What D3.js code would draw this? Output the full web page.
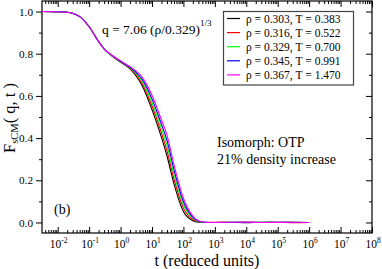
<!DOCTYPE html>
<html>
<head>
<meta charset="utf-8">
<script src="https://cdn.jsdelivr.net/npm/d3@7"></script>
<style>
  html, body { margin: 0; padding: 0; background: #fff; }
  svg { display: block; }
  text { font-family: "Liberation Serif", "Times New Roman", serif; fill: #000; }
</style>
</head>
<body>
<svg id="chart" width="382" height="269"></svg>
<script>
// ---- data ----
const times = [0.003, 0.01, 0.02, 0.05, 0.1, 0.2, 0.3, 0.5, 1, 2, 3, 5, 10, 20, 30, 50, 100, 200, 300, 500, 1000, 3000, 1e4, 3e4, 1e5, 3e5, 1e6];
const F_rho0303 = [1.0, 0.999, 0.997, 0.976, 0.928, 0.858, 0.823, 0.793, 0.760, 0.728, 0.698, 0.645, 0.535, 0.403, 0.315, 0.183, 0.052, 0.008, 0.001, 0.000, 0.000, 0.001, -0.001, 0.001, 0.000, 0.001, 0.000];
const F_rho0316 = [1.0, 0.999, 0.997, 0.976, 0.928, 0.858, 0.823, 0.794, 0.7615, 0.731, 0.703, 0.655, 0.552, 0.424, 0.340, 0.206, 0.068, 0.013, 0.003, 0.000, 0.001, 0.000, 0.002, 0.000, 0.001, -0.001, 0.000];
const F_rho0329 = [1.0, 0.999, 0.997, 0.976, 0.928, 0.858, 0.823, 0.794, 0.763, 0.7335, 0.709, 0.666, 0.569, 0.445, 0.365, 0.228, 0.084, 0.019, 0.004, 0.001, 0.000, 0.001, 0.000, 0.001, 0.000, 0.001, 0.000];
const F_rho0345 = [1.0, 0.999, 0.997, 0.976, 0.928, 0.858, 0.823, 0.795, 0.7645, 0.736, 0.714, 0.676, 0.586, 0.465, 0.389, 0.251, 0.099, 0.024, 0.006, 0.001, 0.000, 0.000, 0.001, 0.000, 0.001, 0.000, 0.000];
const F_rho0367 = [1.0, 0.999, 0.997, 0.976, 0.928, 0.858, 0.823, 0.795, 0.766, 0.739, 0.720, 0.687, 0.603, 0.486, 0.414, 0.273, 0.115, 0.030, 0.008, 0.001, 0.000, 0.001, 0.001, 0.000, 0.000, 0.001, 0.000];
const seriesLabels = ["ρ = 0.303, T = 0.383", "ρ = 0.316, T = 0.522", "ρ = 0.329, T = 0.700", "ρ = 0.345, T = 0.991", "ρ = 0.367, T = 1.470"];
const seriesColors = ["#000000", "#ff0000", "#00ff00", "#0000ff", "#ff00ff"];
const seriesValues = [F_rho0303, F_rho0316, F_rho0329, F_rho0345, F_rho0367];
const xMajorExponents = [-2, -1, 0, 1, 2, 3, 4, 5, 6, 7, 8];
const yMajorTicks = [0.0, 0.2, 0.4, 0.6, 0.8, 1.0];
const yMinorTicks = [0.1, 0.3, 0.5, 0.7, 0.9];

// ---- layout ----
const L = 42, R = 372, T = 1, B = 233;
const svg = d3.select("#chart");
const x = d3.scaleLog().domain([Math.pow(10, -2.5), 1e8]).range([L, R]);
const y = d3.scaleLinear().domain([-0.05, 1.05]).range([B, T]);

const xMajor = xMajorExponents.map(e => Math.pow(10, e));
const xMinor = [];
for (let e = -3; e <= 7; e++) for (let m = 2; m <= 9; m++) {
  const v = m * Math.pow(10, e);
  if (v >= x.domain()[0] && v <= x.domain()[1]) xMinor.push(v);
}

function styleAxis(g) {
  g.select(".domain").remove();
  g.selectAll("line").attr("stroke", "#000").attr("stroke-width", 1);
}

// bottom (inward)
svg.append("g").attr("transform", `translate(0,${B})`)
  .call(d3.axisBottom(x).tickValues(xMajor).tickSizeInner(-6).tickSizeOuter(0).tickFormat(""))
  .call(styleAxis);
svg.append("g").attr("transform", `translate(0,${B})`)
  .call(d3.axisBottom(x).tickValues(xMinor).tickSizeInner(-3).tickSizeOuter(0).tickFormat(""))
  .call(styleAxis);
// top (inward)
svg.append("g").attr("transform", `translate(0,${T})`)
  .call(d3.axisBottom(x).tickValues(xMajor).tickSizeInner(6).tickSizeOuter(0).tickFormat(""))
  .call(styleAxis);
svg.append("g").attr("transform", `translate(0,${T})`)
  .call(d3.axisBottom(x).tickValues(xMinor).tickSizeInner(3).tickSizeOuter(0).tickFormat(""))
  .call(styleAxis);
// left (outward)
const leftAxis = svg.append("g").attr("transform", `translate(${L},0)`)
  .call(d3.axisLeft(y).tickValues(yMajorTicks).tickSizeInner(6).tickSizeOuter(0).tickPadding(3).tickFormat(d3.format(".1f")))
  .call(styleAxis);
leftAxis.selectAll("text").attr("font-size", 11.2).attr("font-family", "Liberation Serif, serif");
svg.append("g").attr("transform", `translate(${L},0)`)
  .call(d3.axisLeft(y).tickValues(yMinorTicks).tickSizeInner(3).tickSizeOuter(0).tickFormat(""))
  .call(styleAxis);
// right (inward)
svg.append("g").attr("transform", `translate(${R},0)`)
  .call(d3.axisLeft(y).tickValues(yMajorTicks).tickSizeInner(6).tickSizeOuter(0).tickFormat(""))
  .call(styleAxis);
svg.append("g").attr("transform", `translate(${R},0)`)
  .call(d3.axisLeft(y).tickValues(yMinorTicks).tickSizeInner(3).tickSizeOuter(0).tickFormat(""))
  .call(styleAxis);

// frame
svg.append("rect").attr("x", L).attr("y", T).attr("width", R - L).attr("height", B - T)
  .attr("fill", "none").attr("stroke", "#000").attr("stroke-width", 1.2);

// x tick labels with superscripts
const xl = svg.append("g");
xMajorExponents.forEach(e => {
  const t = xl.append("text").attr("x", x(Math.pow(10, e)) + 1).attr("y", 248)
    .attr("text-anchor", "middle").attr("font-size", 11.5);
  t.append("tspan").text("10");
  t.append("tspan").attr("dy", -5.5).attr("font-size", 7.5).text(String(e));
});

// axis titles
svg.append("text").attr("x", (L + R) / 2).attr("y", 265.5).attr("text-anchor", "middle")
  .attr("font-size", 16).text("t (reduced units)");
const yt = svg.append("text").attr("transform", "translate(15,118) rotate(-90)")
  .attr("text-anchor", "middle").attr("font-size", 16.5);
yt.append("tspan").text("F");
yt.append("tspan").attr("dy", 3).attr("font-size", 10.5).text("sCM");
yt.append("tspan").attr("dy", -3).text("( q, t )");

// curves
const line = d3.line().x(d => x(d[0])).y(d => y(d[1])).curve(d3.curveMonotoneX);
svg.append("clipPath").attr("id", "clip").append("rect")
  .attr("x", L).attr("y", T).attr("width", R - L).attr("height", B - T);
const plot = svg.append("g").attr("clip-path", "url(#clip)");
seriesValues.forEach((vals, i) => {
  plot.append("path").datum(times.map((t, j) => [t, vals[j]]))
    .attr("fill", "none").attr("stroke", seriesColors[i]).attr("stroke-width", 1.1)
    .attr("d", line);
});

// legend
const lg = svg.append("g");
lg.append("rect").attr("x", 223.5).attr("y", 11.5).attr("width", 130).attr("height", 73.5)
  .attr("fill", "#fff").attr("stroke", "#444").attr("stroke-width", 1.2);
seriesLabels.forEach((lab, i) => {
  const yy = 18.5 + i * 14.1;
  lg.append("line").attr("x1", 227).attr("x2", 240).attr("y1", yy).attr("y2", yy)
    .attr("stroke", seriesColors[i]).attr("stroke-width", 1.2);
  lg.append("text").attr("x", 246).attr("y", yy + 4.2).attr("font-size", 11.5).text(lab);
});

// annotations
const q = svg.append("text").attr("x", 102).attr("y", 33.5).attr("font-size", 13.5);
q.append("tspan").text("q = 7.06 (ρ/0.329)");
q.append("tspan").attr("dy", -8).attr("font-size", 9).text("1/3");
svg.append("text").attr("x", 217).attr("y", 146.5).attr("font-size", 14).text("Isomorph: OTP");
svg.append("text").attr("x", 217).attr("y", 163.5).attr("font-size", 14).text("21% density increase");
svg.append("text").attr("x", 54).attr("y", 214).attr("font-size", 14).text("(b)");
</script>
</body>
</html>
